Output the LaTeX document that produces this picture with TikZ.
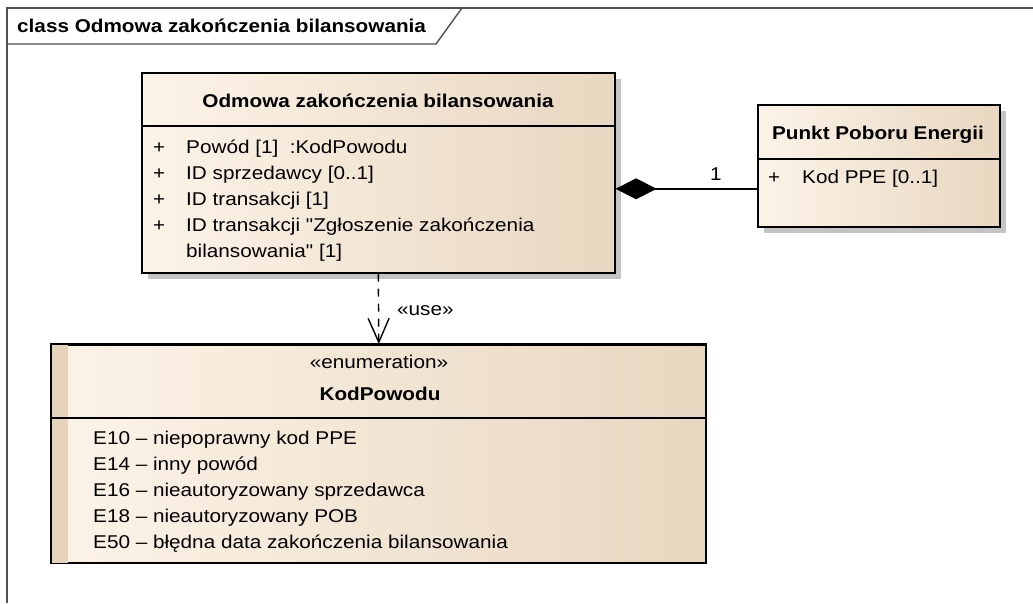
\documentclass[tikz,border=0pt]{standalone}
\usepackage{fontspec}
\newfontfamily\umlfont{Liberation Sans}[FakeStretch=1.12]
\usetikzlibrary{arrows.meta,shadows,calc}
\definecolor{boxL}{RGB}{252,243,232}
\definecolor{boxR}{RGB}{232,215,192}
\definecolor{stripc}{RGB}{229,211,187}
\definecolor{shadowc}{RGB}{196,196,196}
\definecolor{framec}{RGB}{80,80,80}
\tikzset{
  classbox/.style={draw=black, line width=1.6pt, left color=boxL, right color=boxR, inner sep=0pt, anchor=north west},
  withshadow/.style={drop shadow={shadow xshift=6pt, shadow yshift=-6pt, fill=shadowc, opacity=1}},
  divider/.style={draw=black, line width=1.4pt},
  txt/.style={inner sep=0pt, anchor=base west},
  ctxt/.style={inner sep=0pt, anchor=base},
  boldtxt/.style={font=\umlfont\fontsize{18.5}{26}\selectfont\bfseries},
  frameline/.style={draw=framec, line width=1.4pt},
  composition/.style={draw=black, line width=1.4pt, -{Diamond[length=41pt,width=21pt]}},
  dependency/.style={draw=black, line width=1.4pt, dash pattern=on 8pt off 7pt, -{Straight Barb[length=24pt,width=21pt,line width=1.4pt]}},
  every node/.append style={font=\umlfont\fontsize{18.5}{26}\selectfont}
}
\begin{document}
\begin{tikzpicture}[x=1pt,y=-1pt]
\useasboundingbox (0,0) rectangle (1033,603);
\fill[white] (0,0) rectangle (1033,603);
% frame
\draw[frameline] (1033,8) -- (7,8) -- (7,603);
\draw[frameline] (7,44) -- (436,44) -- (462,8);
\node[txt, boldtxt] (frametitle) at (17,32) {class Odmowa zakończenia bilansowania};

% main class
\node[classbox, withshadow, minimum width=473pt, minimum height=200pt] (main) at (141,72) {};
\draw[divider] ([yshift=-54pt]main.north west) -- ([yshift=-54pt]main.north east);
\node[ctxt, boldtxt] (maintitle) at (378,107) {Odmowa zakończenia bilansowania};
\node[txt] (p1) at (153,153) {+};
\node[txt] (a1) at (186,153) {Powód [1]\ \ :KodPowodu};
\node[txt] (p2) at (153,179) {+};
\node[txt] (a2) at (186,179) {ID sprzedawcy [0..1]};
\node[txt] (p3) at (153,205) {+};
\node[txt] (a3) at (186,205) {ID transakcji [1]};
\node[txt] (p4) at (153,231) {+};
\node[txt] (a4) at (186,231) {ID transakcji "Zgłoszenie zakończenia};
\node[txt] (a4b) at (186,257) {bilansowania" [1]};

% PPE class
\node[classbox, withshadow, minimum width=242pt, minimum height=122pt] (ppe) at (757,104) {};
\draw[divider] ([yshift=-55pt]ppe.north west) -- ([yshift=-55pt]ppe.north east);
\node[ctxt, boldtxt] (ppetitle) at (878,139) {Punkt Poboru Energii};
\node[txt] (pp1) at (768,183) {+};
\node[txt] (ppa1) at (802,183) {Kod PPE [0..1]};

% enumeration
\node[classbox, minimum width=654pt, minimum height=218pt] (enum) at (51,344) {};
\fill[stripc] ([shift={(1pt,-1pt)}]enum.north west) rectangle ([shift={(17pt,1pt)}]enum.south west);
\draw[draw=black, line width=1.6pt] (enum.north west) rectangle (enum.south east);
\draw[divider] ([yshift=-74pt]enum.north west) -- ([yshift=-74pt]enum.north east);
\node[ctxt] (stereo) at (379,368) {«enumeration»};
\node[ctxt, boldtxt] (enumtitle) at (380,400) {KodPowodu};
\node[txt] (e1) at (93,444) {E10 – niepoprawny kod PPE};
\node[txt] (e2) at (93,470) {E14 – inny powód};
\node[txt] (e3) at (93,496) {E16 – nieautoryzowany sprzedawca};
\node[txt] (e4) at (93,522) {E18 – nieautoryzowany POB};
\node[txt] (e5) at (93,548) {E50 – błędna data zakończenia bilansowania};

% composition
\coordinate (c1) at ([yshift=-23pt]ppe.west);
\draw[composition] (c1) -- (c1 -| main.east);
\node[ctxt] (mult) at (716,180) {1};

% dependency
\draw[dependency] (main.south) -- (enum.north);
\node[txt] (use) at (397,315) {«use»};
\end{tikzpicture}
\end{document}
